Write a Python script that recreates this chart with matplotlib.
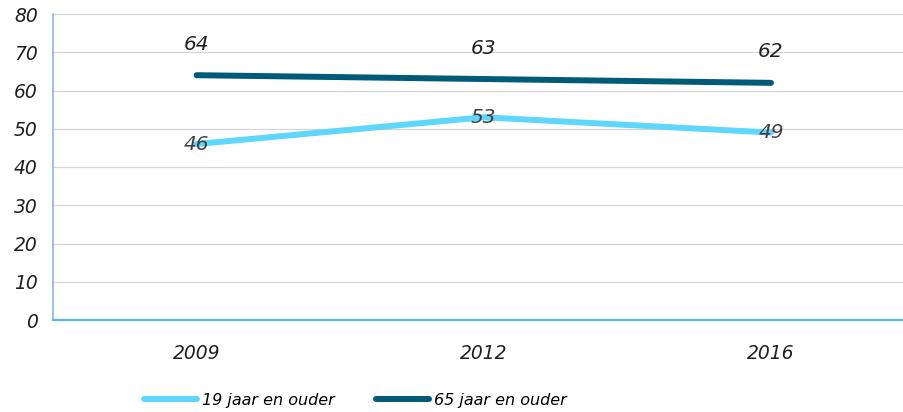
import numpy as np
import matplotlib
matplotlib.use('Agg')
from matplotlib import pyplot as plt

years = ['2009', '2012', '2016']
val_19plus = [46, 53, 49]
val_65plus = [64, 63, 62]
series_names = ['19 jaar en ouder', '65 jaar en ouder']

light = '#5fd6fb'
dark = '#005b79'

fig = plt.figure(figsize=(9.04, 4.12), dpi=100)
ax = fig.add_axes([53 / 904, 92 / 412, 861.5 / 904, 306 / 412])

x = np.arange(len(years))
ax.plot(x, val_19plus, color=light, lw=4.3, solid_capstyle='round', label=series_names[0])
ax.plot(x, val_65plus, color=dark, lw=4.3, solid_capstyle='round', label=series_names[1])

# data labels
for xi, v in zip(x, val_19plus):
    ax.text(xi, v, str(v), ha='center', va='center', fontsize=14.5, style='italic', color='#404040')
for xi, v in zip(x, val_65plus):
    ax.annotate(str(v), (xi, v), xytext=(0, 31), textcoords='offset pixels',
                ha='center', va='center', fontsize=14.5, style='italic', color='#202020')

ax.set_xlim(-0.5, 2.5)
ax.set_ylim(0, 80)
ax.set_xticks(x)
ax.set_xticklabels(years)
ax.set_yticks(range(0, 81, 10))
ax.tick_params(axis='both', length=0, labelsize=13.5, labelcolor='#202020')
ax.tick_params(axis='x', pad=17)
ax.tick_params(axis='y', pad=11)
for lbl in ax.get_xticklabels() + ax.get_yticklabels():
    lbl.set_fontstyle('italic')

ax.yaxis.grid(True, color='#d4d4d4', lw=0.9)
ax.set_axisbelow(True)
for s in ['top', 'right']:
    ax.spines[s].set_visible(False)
ax.spines['left'].set_color('#8ab8e0')
ax.spines['left'].set_linewidth(1.2)
ax.spines['bottom'].set_color('#55bcd9')
ax.spines['bottom'].set_linewidth(1.6)

leg = fig.legend(loc='center', bbox_to_anchor=(0.393, 0.029), ncol=2, frameon=False,
                 prop={'size': 11.5, 'style': 'italic'}, handlelength=3.3,
                 handletextpad=0.3, columnspacing=2.6)

fig.savefig('out.png', dpi=100)
